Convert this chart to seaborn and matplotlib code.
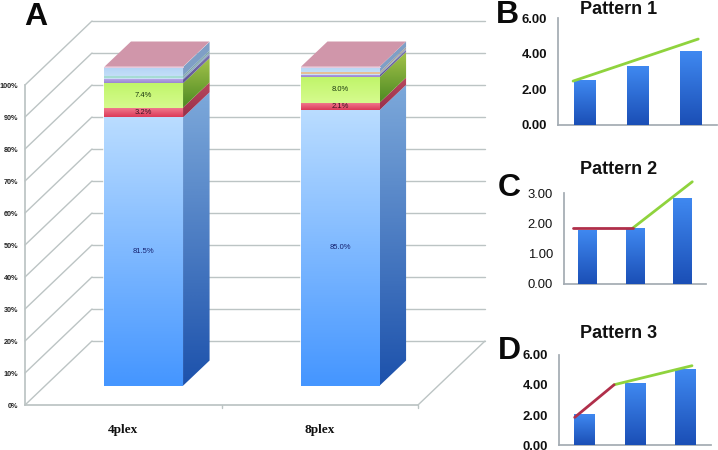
import numpy as np
import pandas as pd
import matplotlib
matplotlib.use("Agg")
import matplotlib.pyplot as plt
from matplotlib.colors import LinearSegmentedColormap
from matplotlib.patches import Polygon
import seaborn as sns

# panel A values, stacked from the bottom
plex = ["4plex", "8plex"]
blue = [84.1, 86.4]
red = [3.1, 2.3]
green = [7.6, 8.0]
purple = [1.2, 0.7]
pale = [0.6, 0.4]
accent = [0.6, 0.5]
sky = [2.7, 1.7]
pct_ticks = [0, 10, 20, 30, 40, 50, 60, 70, 80, 90, 100]
blue_labels = ["81.5%", "85.0%"]
red_labels = ["3.2%", "2.1%"]
green_labels = ["7.4%", "8.0%"]

# panels B, C, D
slots = [0, 1, 2]
vals_b = [2.52, 3.31, 4.15]
vals_c = [1.78, 1.82, 2.82]
vals_d = [1.99, 4.06, 4.99]
green_b_x = [-0.22, 2.145]
green_b_y = [2.46, 4.83]
red_c_x = [-0.30, 0.95]
red_c_y = [1.84, 1.84]
green_c_x = [0.95, 2.21]
green_c_y = [1.84, 3.37]
red_d_x = [-0.19, 0.59]
red_d_y = [1.85, 4.01]
green_d_x = [0.59, 2.13]
green_d_y = [4.01, 5.27]

W, H = 718, 450
sns.set_theme(style="white")
plt.rcParams["font.family"] = ["Liberation Sans", "DejaVu Sans"]
GRID = "#bcc4c4"
AXIS = "#a3abb2"


def px_axes(left, top, right, bottom):
    return fig.add_axes([left / W, 1 - bottom / H, (right - left) / W, (bottom - top) / H])


def grad(ax, x0, x1, y0, y1, ctop, cbot, clip_xy=None, z=3):
    cmap = LinearSegmentedColormap.from_list("g", [ctop, cbot])
    im = ax.imshow(np.linspace(0, 1, 64).reshape(-1, 1), cmap=cmap, extent=(x0, x1, y0, y1),
                   aspect="auto", origin="upper", zorder=z, interpolation="bilinear")
    if clip_xy is not None:
        poly = Polygon(clip_xy, closed=True, fc="none", ec="none", transform=ax.transData)
        ax.add_patch(poly)
        im.set_clip_path(poly)
        im.set_clip_box(fig.bbox)
    return im


fig = plt.figure(figsize=(W / 100, H / 100), dpi=100)

# ---- panel A: walls and floor
ax = px_axes(25, 85, 418, 405)
ax.set_xlim(-0.5, 1.5)
ax.set_ylim(0, 100)
DX, DY = 0.341, 20
for p in pct_ticks:
    ax.plot([-0.5, -0.5 + DX], [p, p + DY], color=GRID, lw=1, clip_on=False)
    ax.plot([-0.5 + DX, 1.5 + DX], [p + DY, p + DY], color=GRID, lw=1, clip_on=False)
ax.plot([1.5, 1.5 + DX], [0, DY], color=GRID, lw=1, clip_on=False)
ax.set_yticks(pct_ticks)
ax.set_yticklabels([f"{p}%" for p in pct_ticks], fontsize=5.2, color="#222222", fontweight="bold")
ax.set_xticks([0, 1])
ax.set_xticklabels(plex, fontsize=9.5, family="Liberation Serif", fontweight="bold", color="#111111")
ax.tick_params(axis="y", length=2, width=0.8, color=GRID, pad=3)
ax.tick_params(axis="x", length=0, pad=13.5)
for t in [0.5, 1.5]:
    ax.plot([t, t], [0, -1], color=GRID, lw=1, clip_on=False)
for s in ["top", "right"]:
    ax.spines[s].set_visible(False)
for s in ["left", "bottom"]:
    ax.spines[s].set_color(GRID)

# ---- panel A: the two stacks, sitting further back on the floor
bx = px_axes(45.5, 66.7, 438.5, 385.7)
bx.patch.set_alpha(0)
layers = [blue, red, green, purple, pale, accent, sky]
front_top = ["#b9dcff", "#f27f93", "#c0f56a", "#b6a4e6", "#c9e0f5", None, "#b3d4f5"]
front_bot = ["#4596ff", "#dc3a58", "#d6fb8e", "#9a86d2", "#c9e0f5", None, "#c3def8"]
side_top = ["#7ca8da", "#b8485f", "#a3c24a", "#7d73b0", "#8ea8c6", None, "#7f9fc6"]
side_bot = ["#1d52ac", "#99304a", "#4d8a22", "#5f5596", "#8ea8c6", None, "#7f9fc6"]
accent_front = ["#a6dcd4", "#e6bf97"]
accent_side = ["#7fa7a8", "#a89a92"]
stack = np.cumsum(np.array(layers), axis=0)
bar_w = 0.40
for i in range(len(layers) - 1, -1, -1):
    df = pd.DataFrame({"plex": plex, "top": stack[i]})
    sns.barplot(data=df, x="plex", y="top", color=front_top[i] or accent_front[0], width=bar_w,
                saturation=1, ax=bx, zorder=2)
bars = list(bx.patches)
bx.set_xlim(-0.5, 1.5)
bx.set_ylim(0, 100)
bx.axis("off")
SX, SY = 0.135, 7.9
n = len(layers)
for i in range(n):
    # barplot was called top layer first, so layer i sits at this slice
    pair = bars[(n - 1 - i) * 2:(n - 1 - i) * 2 + 2]
    for j, b in enumerate(pair):
        x0, x1 = b.get_x(), b.get_x() + b.get_width()
        y1 = b.get_height()
        y0 = y1 - layers[i][j]
        ft = front_top[i] or accent_front[j]
        fb = front_bot[i] or accent_front[j]
        st = side_top[i] or accent_side[j]
        sb = side_bot[i] or accent_side[j]
        grad(bx, x0, x1, y0, y1, ft, fb)
        grad(bx, x1, x1 + SX, y0, y1 + SY, st, sb,
             clip_xy=[(x1, y0), (x1 + SX, y0 + SY), (x1 + SX, y1 + SY), (x1, y1)])
for j, b in enumerate(bars[:2]):
    x0, x1 = b.get_x(), b.get_x() + b.get_width()
    bx.add_patch(Polygon([(x0, 100), (x1, 100), (x1 + SX, 100 + SY), (x0 + SX, 100 + SY)],
                         closed=True, fc="#d096aa", ec="none", zorder=4, clip_on=False))
    bx.plot([x0, x1], [100, 100], color="#e6c9de", lw=0.8, zorder=5, clip_on=False)
    xc = (x0 + x1) / 2
    bx.text(xc, blue[j] / 2, blue_labels[j], ha="center", va="center", fontsize=5.5,
            color="#15206e", zorder=6)
    bx.text(xc, blue[j] + red[j] / 2, red_labels[j], ha="center", va="center", fontsize=5.5,
            color="#3a1020", zorder=6)
    bx.text(xc, blue[j] + red[j] + green[j] / 2, green_labels[j], ha="center", va="center",
            fontsize=5.5, color="#1c3a10", zorder=6)
bx.set_xlim(-0.5, 1.5)
bx.set_ylim(0, 100)


# ---- small panels
def small(box, vals, ymax, yticks, fmt_weight, lines):
    a = px_axes(*box)
    sns.barplot(x=slots, y=vals, color="#3a82ea", width=0.4, saturation=1, ax=a, zorder=2)
    a.set_xlim(-0.5, 2.5)
    a.set_ylim(0, ymax)
    for b in list(a.patches):
        x0, x1 = b.get_x(), b.get_x() + b.get_width()
        grad(a, x0, x1, 0, b.get_height(), "#3f88f0", "#1b4fb6")
    for lx, ly, c in lines:
        sns.lineplot(x=lx, y=ly, color=c, lw=2, ax=a, errorbar=None, zorder=5, sort=False)
        a.lines[-1].set_clip_on(False)
    a.set_xlim(-0.5, 2.5)
    a.set_ylim(0, ymax)
    a.set_xticks([-0.5, 0.5, 1.5, 2.5])
    a.set_xticklabels([])
    a.set_yticks(yticks)
    a.set_yticklabels([f"{t:.2f}" for t in yticks], fontsize=9.4, fontweight=fmt_weight, color="#111111")
    a.tick_params(axis="both", length=2, width=0.9, color=AXIS, pad=6, direction="out")
    a.spines["top"].set_visible(False)
    a.spines["right"].set_visible(False)
    a.spines["left"].set_color(AXIS)
    a.spines["bottom"].set_color(AXIS)
    a.set_xlabel("")
    a.set_ylabel("")
    return a


LINE_GREEN = "#8fd33d"
LINE_RED = "#b02f4a"
small((558.3, 18.3, 717.0, 124.7), vals_b, 6, [0, 2, 4, 6], "bold", [(green_b_x, green_b_y, LINE_GREEN)])
small((564, 193, 706, 284), vals_c, 3, [0, 1, 2, 3], "normal",
      [(green_c_x, green_c_y, LINE_GREEN), (red_c_x, red_c_y, LINE_RED)])
small((559, 354.7, 710.7, 445.3), vals_d, 6, [0, 2, 4, 6], "bold",
      [(green_d_x, green_d_y, LINE_GREEN), (red_d_x, red_d_y, LINE_RED)])

# titles and panel letters
for txt, x, y in [("Pattern 1", 619, 10), ("Pattern 2", 619, 170), ("Pattern 3", 619, 333)]:
    fig.text(x / W, 1 - y / H, txt, ha="center", va="center", fontsize=13, fontweight="bold", color="#111111")
for txt, x, y in [("A", 36, 17), ("B", 507.5, 15), ("C", 509, 188.5), ("D", 509, 351)]:
    fig.text(x / W, 1 - y / H, txt, ha="center", va="center", fontsize=23, fontweight="bold", color="#0a0a0a")

fig.savefig("out.png", dpi=100)
